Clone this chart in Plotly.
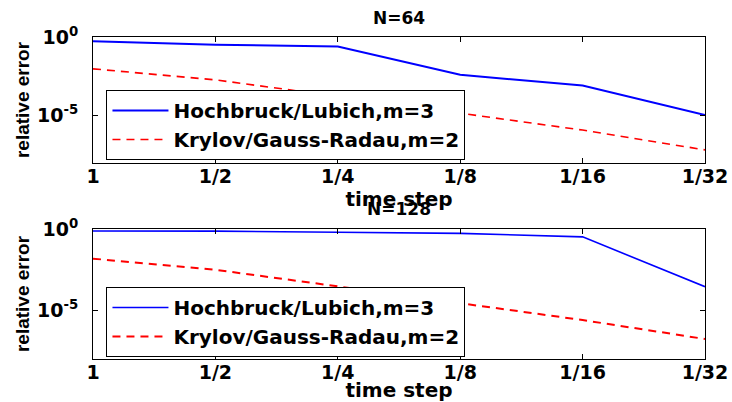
import math
import plotly.graph_objects as go

# time steps and tick labels
time_steps = [1, 1/2, 1/4, 1/8, 1/16, 1/32]
tick_labels = ["1", "1/2", "1/4", "1/8", "1/16", "1/32"]

# N=64
hl_64 = [0.537, 0.324, 0.251, 3.98e-3, 8.3e-4, 1.12e-5]
kgr_64 = [9.5e-3, 1.9e-3, 1.7e-4, 1.48e-5, 1.23e-6, 6.8e-8]
# N=128
hl_128 = [0.76, 0.74, 0.63, 0.54, 0.33, 2.8e-4]
kgr_128 = [1.5e-2, 3.1e-3, 2.95e-4, 2.6e-5, 2.5e-6, 1.7e-7]

name_hl = "Hochbruck/Lubich,m=3"
name_kgr = "Krylov/Gauss-Radau,m=2"
titles = ["N=64", "N=128"]

BLUE = "#0000FF"
RED = "#FF0000"
tickfont = dict(family="DejaVu Sans", size=19, color="black", weight="bold")

fig = go.Figure()
fig.add_trace(go.Scatter(x=time_steps, y=hl_64, mode="lines", name=name_hl,
                         line=dict(color=BLUE, width=2), xaxis="x", yaxis="y", legend="legend"))
fig.add_trace(go.Scatter(x=time_steps, y=kgr_64, mode="lines", name=name_kgr,
                         line=dict(color=RED, width=1.6, dash="8px,6px"), xaxis="x", yaxis="y", legend="legend"))
fig.add_trace(go.Scatter(x=time_steps, y=hl_128, mode="lines", name=name_hl,
                         line=dict(color=BLUE, width=1.6), xaxis="x2", yaxis="y2", legend="legend2"))
fig.add_trace(go.Scatter(x=time_steps, y=kgr_128, mode="lines", name=name_kgr,
                         line=dict(color=RED, width=2, dash="8px,6px"), xaxis="x2", yaxis="y2", legend="legend2"))

xr = [0, math.log10(1/32)]

def xax(anchor):
    return dict(type="log", range=xr, tickvals=time_steps, ticktext=tick_labels,
                ticks="inside", ticklen=5, tickcolor="black", mirror="ticks",
                showline=True, linecolor="black", linewidth=1, showgrid=False, zeroline=False,
                tickfont=tickfont, anchor=anchor, automargin=False, ticklabelstandoff=-4,
                title=dict(text="time step", font=dict(family="DejaVu Sans", size=20, weight="bold", color="black"), standoff=0))

def yax(anchor, domain):
    return dict(type="log", range=[-8, 0], domain=domain, tickvals=[1, 1e-5],
                ticktext=["10<sup>0</sup>", "10<sup>-5</sup>"],
                ticks="inside", ticklen=5, tickcolor="black", mirror="ticks",
                showline=True, linecolor="black", linewidth=1, showgrid=False, zeroline=False,
                tickfont=tickfont, anchor=anchor, ticklabelstandoff=10, automargin=False,
                title=dict(text="relative error", font=dict(family="Liberation Sans", size=19, weight="bold", color="black"), standoff=2))

leg_common = dict(xanchor="left", yanchor="bottom", bordercolor="black", borderwidth=1,
                  bgcolor="white", font=dict(family="DejaVu Sans", size=20, weight="bold", color="black"),
                  itemwidth=56, tracegroupgap=0, entrywidth=380, entrywidthmode="pixels")

fig.update_layout(
    width=732, height=402,
    margin=dict(l=93, r=27, t=37, b=43),
    paper_bgcolor="white", plot_bgcolor="white",
    xaxis=xax("y"), yaxis=yax("x", [0.6087, 1.0]),
    xaxis2=xax("y2"), yaxis2=yax("x2", [0.0, 0.4037]),
    legend=dict(x=0.022, y=0.618, **leg_common),
    legend2=dict(x=0.022, y=0.006, **leg_common),
    annotations=[
        dict(text=titles[0], x=0.5, y=1.059, xref="paper", yref="paper", showarrow=False,
             font=dict(family="DejaVu Sans", size=17, weight="bold", color="black"), yanchor="middle"),
        dict(text=titles[1], x=0.5, y=0.466, xref="paper", yref="paper", showarrow=False,
             font=dict(family="DejaVu Sans", size=17, weight="bold", color="black"), yanchor="middle"),
    ],
)

fig.write_html("out.html", config={"displayModeBar": False},
               post_script="document.body.style.margin='0px';")
